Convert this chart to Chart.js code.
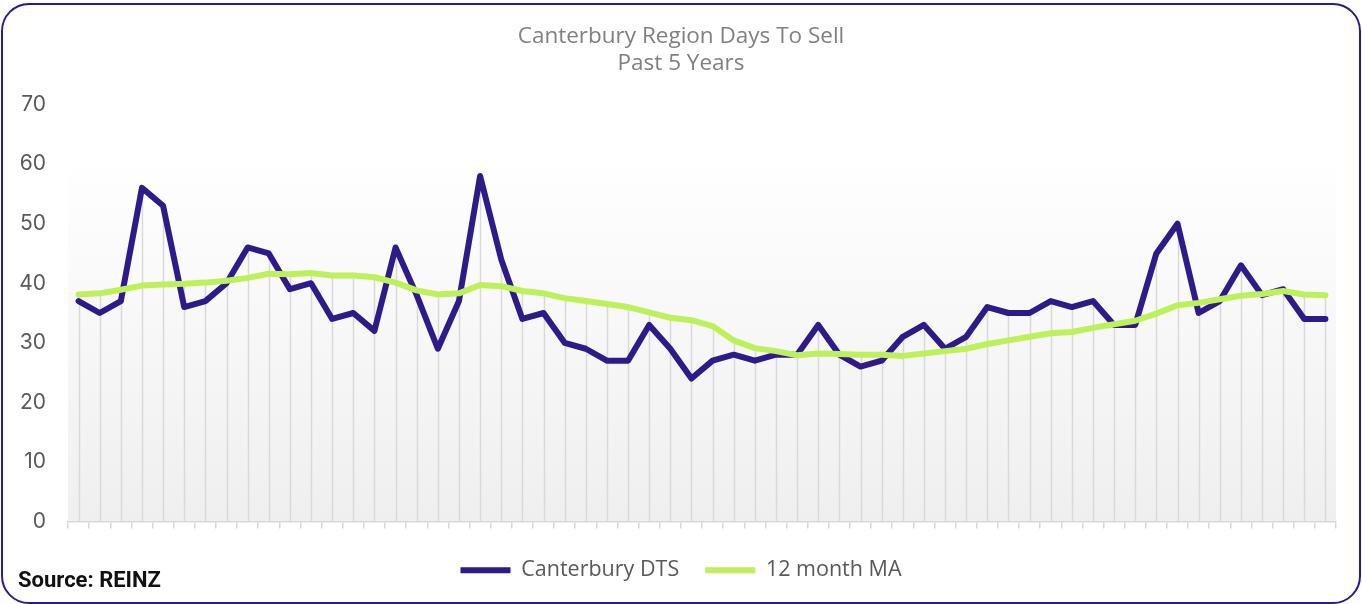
<!DOCTYPE html>
<html>
<head>
<meta charset="utf-8">
<script src="https://cdn.jsdelivr.net/npm/chart.js@4.4.1/dist/chart.umd.min.js"></script>
<style>
  html, body { margin: 0; padding: 0; background: #fff; }
  #wrap { position: relative; width: 1362px; height: 604px; overflow: hidden; }
  #frame {
    position: absolute; left: 1px; top: 3px; right: 1px; bottom: 0px;
    border: 2.5px solid #2f1a8a; border-radius: 28px; pointer-events: none;
  }
  #source {
    position: absolute; left: 18px; top: 567px;
    font: bold 22px Roboto, "Liberation Sans", sans-serif; color: #111;
  }
</style>
</head>
<body>
<div id="wrap">
  <canvas id="dtsChart" width="1362" height="604"></canvas>
  <div id="frame"></div>
  <div id="source">Source: REINZ</div>
</div>
<script>
const months = Array.from({ length: 60 }, (_, i) => String(i + 1));

const canterburyDts = [
  37, 35, 37, 56, 53, 36, 37, 40, 46, 45,
  39, 40, 34, 35, 32, 46, 38, 29, 37, 58,
  44, 34, 35, 30, 29, 27, 27, 33, 29, 24,
  27, 28, 27, 28, 28, 33, 28, 26, 27, 31,
  33, 29, 31, 36, 35, 35, 37, 36, 37, 33,
  33, 45, 50, 35, 37, 43, 38, 39, 34, 34
];

const movingAvg = [
  38.1, 38.3, 38.9, 39.6, 39.8, 39.9, 40.1, 40.4, 40.9, 41.6,
  41.5, 41.7, 41.3, 41.3, 41.0, 40.1, 38.8, 38.1, 38.3, 39.7,
  39.5, 38.7, 38.3, 37.5, 37.0, 36.5, 36.0, 35.1, 34.2, 33.8,
  32.8, 30.4, 29.1, 28.6, 27.9, 28.2, 28.1, 28.0, 28.0, 27.8,
  28.2, 28.6, 29.0, 29.8, 30.4, 31.0, 31.6, 31.8, 32.5, 33.1,
  33.7, 34.9, 36.3, 36.7, 37.3, 37.9, 38.2, 38.7, 38.1, 38.0
];

const yMin = 0;
const yMax = 70;
const yStep = 10;

const PURPLE = '#2f1a8a';
const GREEN = '#bef05c';

// grey gradient behind the plot, then drop lines from the higher series to the axis
const plotBackdrop = {
  id: 'plotBackdrop',
  beforeDraw(chart) {
    const { ctx, chartArea: a } = chart;
    const g = ctx.createLinearGradient(0, a.top, 0, a.bottom);
    g.addColorStop(0, '#ffffff');
    g.addColorStop(0.12, '#ffffff');
    g.addColorStop(1, '#efefef');
    ctx.save();
    ctx.fillStyle = g;
    ctx.fillRect(a.left, a.top, a.right - a.left, a.bottom - a.top);
    ctx.restore();
  },
  beforeDatasetsDraw(chart) {
    const { ctx, scales: { x, y } } = chart;
    ctx.save();
    ctx.strokeStyle = '#d9d9d9';
    ctx.lineWidth = 1.5;
    months.forEach((m, i) => {
      const px = Math.round(x.getPixelForValue(i)) + 0.5;
      const top = y.getPixelForValue(Math.max(canterburyDts[i], movingAvg[i]));
      ctx.beginPath();
      ctx.moveTo(px, y.getPixelForValue(0));
      ctx.lineTo(px, top);
      ctx.stroke();
    });
    ctx.restore();
  }
};

new Chart(document.getElementById('dtsChart'), {
  type: 'line',
  data: {
    labels: months,
    datasets: [
      {
        label: 'Canterbury DTS',
        data: canterburyDts,
        borderColor: PURPLE,
        backgroundColor: PURPLE,
        borderWidth: 6,
        pointRadius: 0,
        tension: 0,
        borderJoinStyle: 'round',
        borderCapStyle: 'round',
        order: 1
      },
      {
        label: '12 month MA',
        data: movingAvg,
        borderColor: GREEN,
        backgroundColor: GREEN,
        borderWidth: 6,
        pointRadius: 0,
        tension: 0,
        borderJoinStyle: 'round',
        borderCapStyle: 'round',
        order: 0
      }
    ]
  },
  options: {
    responsive: false,
    animation: false,
    layout: { padding: { left: 0, right: 0, top: 0, bottom: 13 } },
    plugins: {
      tooltip: { enabled: false },
      title: {
        display: true,
        text: ['Canterbury Region Days To Sell', 'Past 5 Years'],
        color: '#808080',
        font: { family: 'Open Sans', size: 22.5, weight: 'normal', lineHeight: '27px' },
        padding: { top: 23, bottom: 27.5 }
      },
      legend: {
        position: 'bottom',
        labels: {
          color: '#595959',
          font: { family: 'Open Sans', size: 21.5 },
          boxWidth: 50,
          boxHeight: 6,
          padding: 26,
          useBorderRadius: true,
          borderRadius: 3,
          generateLabels(chart) {
            return chart.data.datasets.map((ds, i) => ({
              text: ds.label,
              fillStyle: ds.borderColor,
              strokeStyle: ds.borderColor,
              lineWidth: 0,
              fontColor: '#595959',
              datasetIndex: i,
              hidden: false
            }));
          }
        }
      }
    },
    scales: {
      x: {
        offset: true,
        grid: {
          offset: true,
          drawOnChartArea: false,
          drawTicks: true,
          tickLength: 7,
          color: '#d9d9d9',
          lineWidth: 1.5
        },
        border: { color: '#d9d9d9', width: 1.5 },
        ticks: { display: false },
        afterFit(scale) { scale.height = 12; }
      },
      y: {
        min: yMin,
        max: yMax,
        ticks: {
          stepSize: yStep,
          color: '#595959',
          padding: 22,
          font: { family: 'Inter', size: 21 }
        },
        grid: { display: false, drawTicks: false },
        border: { display: false },
        afterFit(scale) { scale.width = 68; }
      },
      // empty right-hand strip so the title and legend stay centred on the page
      yRight: {
        type: 'linear',
        position: 'right',
        grid: { display: false, drawTicks: false },
        border: { display: false },
        ticks: { display: false },
        afterFit(scale) { scale.width = 26; }
      }
    }
  },
  plugins: [plotBackdrop]
});
</script>
</body>
</html>
